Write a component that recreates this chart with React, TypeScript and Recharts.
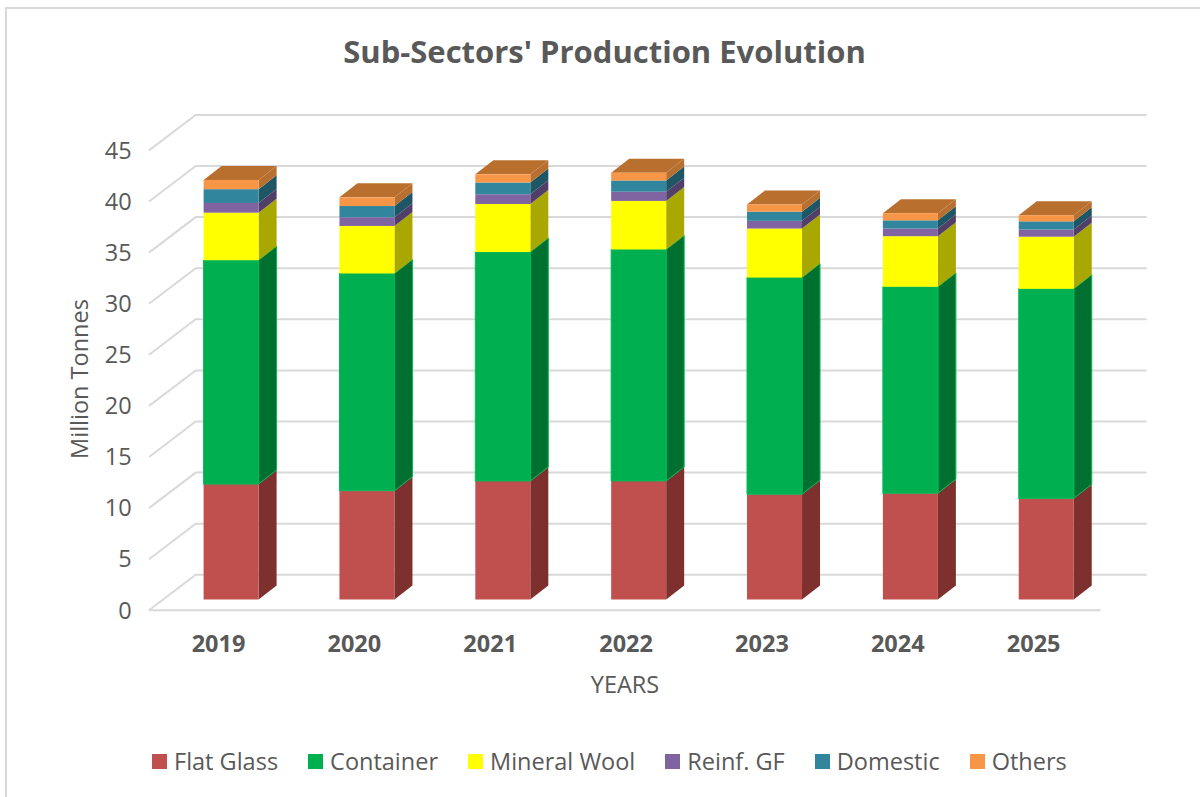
// Sub-sector production: Excel style 3D stacked columns, drawn with a custom Bar shape.
import { BarChart, Bar, XAxis, YAxis, CartesianGrid, Legend } from "recharts";

const years = ["2019", "2020", "2021", "2022", "2023", "2024", "2025"];
const flatGlass = [11.3, 10.65, 11.6, 11.6, 10.3, 10.4, 9.9];
const container = [21.9, 21.25, 22.4, 22.65, 21.2, 20.2, 20.5];
const mineralWool = [4.65, 4.65, 4.7, 4.75, 4.8, 4.95, 5.1];
const reinfGF = [0.95, 0.85, 0.95, 0.9, 0.75, 0.75, 0.7];
const domestic = [1.35, 1.1, 1.15, 1.1, 0.9, 0.8, 0.8];
const others = [0.9, 0.85, 0.8, 0.75, 0.7, 0.7, 0.6];
const yTicks = [0, 5, 10, 15, 20, 25, 30, 35, 40, 45];

const data = years.map((year, i) => ({
  year,
  flatGlass: flatGlass[i],
  container: container[i],
  mineralWool: mineralWool[i],
  reinfGF: reinfGF[i],
  domestic: domestic[i],
  others: others[i],
}));

const series = [
  { key: "flatGlass", name: "Flat Glass", front: "#C0504D", side: "#7D302E" },
  { key: "container", name: "Container", front: "#00B050", side: "#007030", edge: "#00B856" },
  { key: "mineralWool", name: "Mineral Wool", front: "#FFFF00", side: "#A8A800" },
  { key: "reinfGF", name: "Reinf. GF", front: "#8064A2", side: "#523F69" },
  { key: "domestic", name: "Domestic", front: "#31859C", side: "#1F5665" },
  { key: "others", name: "Others", front: "#F79646", side: "#B9702F", top: "#B9702F" },
];

const FONT = "'Open Sans', sans-serif";
const TEXT = "#595959";
const GRID = "#D9D9D9";

// depth of a column
const DX = 18;
const DY = -14;

function Block3D(props: any) {
  const { x, y, width, height, front, side, top, edge } = props;
  const h = Math.abs(height);
  const r = x + width;
  const stroke = edge || "none";
  return (
    <g>
      <polygon
        points={`${r},${y} ${r + DX},${y + DY} ${r + DX},${y + h + DY} ${r},${y + h}`}
        fill={side}
        stroke={stroke}
      />
      {top && (
        <polygon
          points={`${x},${y} ${x + DX},${y + DY} ${r + DX},${y + DY} ${r},${y}`}
          fill={top}
        />
      )}
      <rect x={x} y={y} width={width} height={h} fill={front} stroke={stroke} />
    </g>
  );
}

// one gridline: along the floor/side wall from the front edge, then across the back wall
function GridLine(props: any) {
  const { y1, x1, x2, index } = props;
  const fx = x1 - 14.6;
  const fy = y1 + 10.8;
  const by = y1 - 24.7;
  return (
    <g key={index} fill="none" stroke={GRID} strokeWidth={2}>
      <polyline points={`${fx},${fy} ${fx + 46.7},${by} ${x2 + 32},${by}`} />
      {index === 0 || y1 > 590 ? <line x1={fx} y1={fy} x2={x2 - 14} y2={fy} /> : null}
    </g>
  );
}

function YTick({ x, y, payload }: any) {
  return (
    <text x={x - 24} y={y + 10.8} dy="0.35em" textAnchor="end" fontFamily={FONT} fontSize={23.5} fill={TEXT}>
      {payload.value}
    </text>
  );
}

function XTick({ x, payload }: any) {
  return (
    <text x={x - 13} y={644} dy="0.35em" textAnchor="middle" fontFamily={FONT} fontSize={23.5} fontWeight={700} fill={TEXT}>
      {payload.value}
    </text>
  );
}

function LegendRow({ payload }: any) {
  return (
    <div style={{ display: "flex", paddingLeft: 152, alignItems: "center", fontFamily: FONT, fontSize: 23.5, color: TEXT }}>
      {(payload || []).map((p: any) => (
        <div key={p.value} style={{ display: "flex", alignItems: "center", marginRight: 30 }}>
          <span style={{ width: 15, height: 15, background: p.color, marginRight: 7 }} />
          {p.value}
        </div>
      ))}
    </div>
  );
}

export default function App() {
  return (
    <div style={{ position: "absolute", left: 0, top: 0, width: 1200, height: 797, background: "#fff" }}>
      <div style={{ position: "absolute", left: 5, top: 7, width: 1195, height: 2, background: GRID }} />
      <div style={{ position: "absolute", left: 5, top: 7, width: 2, height: 790, background: GRID }} />
      <div
        style={{
          position: "absolute",
          left: 0,
          width: 1209,
          top: 30,
          textAlign: "center",
          fontFamily: FONT,
          fontSize: 31,
          fontWeight: 700,
          color: TEXT,
        }}
      >
        Sub-Sectors' Production Evolution
      </div>
      <BarChart
        width={1200}
        height={797}
        data={data}
        margin={{ top: 139.6, right: 85.4, bottom: 137.5, left: 103.6 }}
      >
        <CartesianGrid vertical={false} horizontal={(p: any) => <GridLine {...p} />} />
        <XAxis
          dataKey="year"
          axisLine={false}
          tickLine={false}
          height={60}
          interval={0}
          tick={<XTick />}
          label={{
            content: () => (
              <text x={625} y={685} dy="0.35em" textAnchor="middle" fontFamily={FONT} fontSize={23.5} fill={TEXT}>
                YEARS
              </text>
            ),
          }}
        />
        <YAxis
          width={60}
          domain={[0, 45]}
          ticks={yTicks}
          axisLine={false}
          tickLine={false}
          tick={<YTick />}
          label={{
            content: () => (
              <text
                x={80}
                y={379}
                dy="0.35em"
                textAnchor="middle"
                transform="rotate(-90 80 379)"
                fontFamily={FONT}
                fontSize={23.5}
                fill={TEXT}
              >
                Million Tonnes
              </text>
            ),
          }}
        />
        <Legend
          layout="horizontal"
          align="center"
          verticalAlign="middle"
          itemSorter={null}
          content={<LegendRow />}
          wrapperStyle={{ top: 745, left: 0, width: 1200 }}
        />
        {series.map((s) => (
          <Bar
            key={s.key}
            dataKey={s.key}
            name={s.name}
            stackId="total"
            fill={s.front}
            barSize={55}
            isAnimationActive={false}
            shape={(p: any) => <Block3D {...p} front={s.front} side={s.side} top={s.top} edge={s.edge} />}
          />
        ))}
      </BarChart>
    </div>
  );
}
